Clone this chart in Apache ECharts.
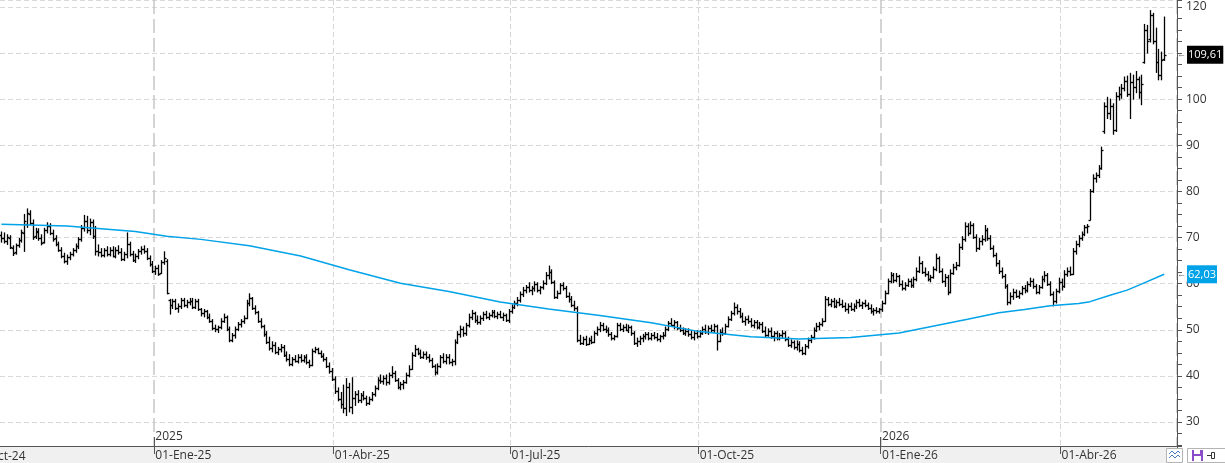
<!DOCTYPE html>
<html>
<head>
<meta charset="utf-8">
<script src="https://cdn.jsdelivr.net/npm/echarts@6/dist/echarts.min.js"></script>
<style>
html, body { margin: 0; padding: 0; background: #fff; }
#chart { width: 1225px; height: 463px; }
</style>
</head>
<body>
<div id="chart"></div>
<script>
// daily bars [open, high, low, close], first bar 15-Oct-24
var ohlc = [
[70.5,71.2,69.0,70.0],[70.0,71.0,68.8,69.2],[69.3,70.6,68.5,70.2],[70.0,70.4,67.6,68.0],[67.8,68.2,66.1,66.6],[66.8,68.6,66.4,68.3],[68.3,69.8,67.9,69.4],[69.4,71.6,69.0,71.2],[71.0,75.0,67.0,73.5],[73.0,76.2,72.2,75.4],
[75.0,75.8,72.8,73.2],[73.2,73.8,69.6,70.2],[70.4,72.0,69.8,71.5],[71.3,71.9,69.4,69.8],[69.8,70.6,68.4,68.8],[69.0,72.0,68.8,71.6],[71.6,73.2,71.0,72.6],[72.6,73.0,70.6,71.0],[71.0,71.6,69.2,69.6],[69.8,70.4,68.2,68.6],
[68.6,69.0,67.0,67.4],[67.4,67.8,65.6,66.0],[66.0,66.6,64.5,64.9],[65.0,66.2,64.2,65.8],[65.8,66.8,65.2,66.4],[66.4,67.6,66.0,67.2],[67.2,68.6,66.8,68.2],[68.2,70.0,67.6,69.6],[69.6,72.6,69.2,72.0],[72.0,74.8,71.4,73.6],
[73.6,74.6,71.0,71.6],[71.6,74.0,70.6,73.4],[73.4,73.8,69.8,70.4],[70.4,72.4,66.2,67.0],[67.0,68.4,66.0,66.8],[66.8,67.6,65.8,66.2],[66.2,67.6,65.8,67.2],[67.2,68.0,66.0,66.4],[66.4,67.8,66.0,67.4],[67.4,68.0,65.8,66.0],
[66.0,67.8,65.6,67.4],[67.4,68.2,66.4,66.8],[66.8,67.6,65.0,65.4],[65.4,66.8,65.0,66.4],[66.4,71.0,65.6,68.6],[68.6,69.0,66.0,66.4],[66.4,67.0,64.8,65.2],[65.2,66.4,64.6,66.0],[66.0,67.4,65.4,67.0],[67.0,68.0,66.4,67.6],
[67.6,68.2,66.6,67.0],[67.0,67.6,65.2,65.6],[65.6,66.0,63.8,64.2],[64.2,64.8,62.4,62.8],[62.8,63.8,62.0,63.4],[63.4,64.0,61.8,62.2],[62.4,65.0,62.2,64.6],[64.6,66.9,64.2,65.6],[65.0,65.2,57.8,58.0],[56.4,56.6,53.4,55.4],
[55.4,56.6,54.6,56.2],[56.2,56.6,54.4,54.8],[54.8,55.6,53.8,55.2],[55.2,56.8,54.6,56.4],[56.4,56.8,55.0,55.4],[55.4,56.4,54.8,56.0],[56.0,56.8,55.4,56.2],[56.2,56.8,54.6,55.0],[55.0,56.6,54.6,56.2],[56.2,56.6,54.2,54.6],
[54.6,54.6,53.0,53.6],[53.6,54.4,52.8,54.0],[54.0,54.2,52.4,52.8],[52.8,53.4,51.6,52.0],[52.0,52.2,50.0,50.4],[50.4,51.0,49.6,50.2],[50.2,50.8,49.4,50.6],[50.6,52.4,50.2,52.0],[52.0,53.4,51.6,52.8],[52.8,53.0,49.8,50.2],
[50.2,50.6,47.4,47.8],[47.8,49.2,47.4,48.8],[48.8,50.6,48.2,50.2],[50.2,51.6,49.8,51.2],[51.2,52.2,50.6,51.8],[51.8,53.0,51.4,52.6],[52.6,56.4,52.4,55.8],[55.8,57.8,55.2,56.8],[56.8,57.0,54.4,54.8],[54.8,55.2,53.4,53.8],
[53.8,54.0,51.6,52.0],[52.0,52.4,50.4,50.8],[50.8,51.0,48.6,49.0],[49.0,49.6,47.0,47.4],[47.4,48.4,45.6,46.0],[46.0,47.4,45.2,46.8],[46.8,47.2,44.8,45.2],[45.2,46.2,44.6,45.8],[45.8,46.8,45.2,46.2],[46.2,46.6,44.2,44.6],
[44.6,45.2,43.2,43.6],[43.6,44.6,42.2,42.6],[42.6,44.0,42.2,43.6],[43.6,44.4,43.0,43.2],[43.2,44.6,42.8,44.2],[44.2,44.6,43.0,43.4],[43.4,44.4,43.0,44.0],[44.0,44.6,42.6,43.0],[43.0,43.4,41.8,42.4],[42.4,45.8,42.2,45.4],
[45.4,46.2,45.0,45.8],[45.8,46.0,44.8,45.0],[45.0,45.4,44.0,44.4],[44.4,44.8,43.2,43.6],[43.6,44.0,41.8,42.2],[42.2,42.8,40.6,41.0],[41.0,41.6,39.0,39.4],[39.4,39.8,36.2,36.8],[36.8,37.4,34.6,35.0],[35.0,36.4,33.0,34.0],
[34.0,38.0,32.0,33.0],[33.0,39.4,31.4,37.6],[37.6,38.4,32.2,33.2],[33.2,39.6,31.8,35.2],[35.2,36.6,33.6,36.0],[36.0,36.8,34.2,34.8],[34.8,36.2,34.2,35.8],[35.8,36.6,34.8,35.2],[35.2,35.6,33.6,34.2],[34.2,35.4,33.8,35.0],
[35.0,36.4,34.6,36.0],[36.0,37.8,35.6,37.4],[37.4,39.6,37.0,39.2],[39.2,40.2,38.4,38.8],[38.8,40.0,38.2,39.6],[39.6,40.2,38.0,38.6],[38.6,40.6,38.2,40.2],[40.2,42.0,39.6,40.6],[40.6,41.0,38.8,39.2],[39.2,39.4,37.2,37.6],
[37.6,38.6,37.0,38.2],[38.2,39.0,37.2,38.6],[38.6,40.6,38.4,40.2],[40.2,42.2,39.8,41.6],[41.6,45.0,41.4,44.6],[44.6,46.6,44.2,45.8],[45.8,46.0,44.6,45.0],[45.0,45.6,43.8,44.2],[44.2,45.2,43.8,44.8],[44.8,45.2,43.6,44.0],
[44.0,44.6,43.0,43.4],[43.4,43.8,41.8,42.2],[42.2,42.4,40.2,40.8],[40.8,42.6,40.4,42.2],[42.2,44.4,41.8,44.0],[44.0,44.8,42.8,43.2],[43.2,44.6,42.6,44.2],[44.2,44.6,42.6,43.0],[43.0,43.6,42.2,43.2],[43.2,47.8,42.4,47.4],
[47.4,49.6,47.0,49.0],[49.0,50.8,48.4,50.2],[50.2,50.6,48.6,49.2],[49.2,51.4,48.8,51.0],[51.0,53.4,50.6,52.8],[52.8,54.2,52.2,53.6],[53.6,53.8,51.6,52.2],[52.2,53.0,51.2,51.6],[51.6,53.0,51.2,52.6],[52.6,53.8,52.0,53.4],
[53.4,54.0,52.4,52.8],[52.8,53.6,52.2,53.2],[53.2,54.2,52.8,53.8],[53.8,54.2,52.6,53.0],[53.0,53.8,52.4,53.4],[53.4,54.0,52.6,52.8],[52.8,53.6,52.0,53.2],[53.2,53.4,51.8,52.2],[52.2,54.4,51.6,54.0],[54.0,55.4,53.6,55.0],
[55.0,56.2,54.6,55.8],[55.8,57.0,55.2,56.4],[56.4,58.2,56.0,57.8],[57.8,59.2,57.2,58.6],[58.6,59.6,58.0,59.2],[59.2,60.2,58.2,58.6],[58.6,59.4,57.6,59.0],[59.0,60.4,58.4,60.0],[60.0,60.2,58.2,58.6],[58.6,59.4,57.8,59.2],
[59.2,60.6,58.8,60.2],[60.2,62.4,59.8,61.8],[61.8,63.8,61.0,62.6],[62.6,63.0,60.0,60.4],[60.4,60.6,56.8,57.2],[57.2,58.4,56.8,58.0],[58.0,60.0,57.8,59.6],[59.6,60.2,58.6,59.0],[59.0,59.4,57.0,57.4],[57.4,58.0,56.0,56.6],
[56.6,57.2,55.0,55.4],[55.4,56.2,54.2,54.8],[54.8,55.0,47.4,47.8],[47.8,48.8,46.8,47.2],[47.2,48.4,46.8,48.0],[48.0,48.6,46.6,47.0],[47.0,48.2,46.8,47.8],[47.8,48.6,47.0,47.4],[47.4,49.6,47.2,49.2],[49.2,50.6,48.8,50.2],
[50.2,51.6,49.6,51.0],[51.0,51.4,49.8,50.2],[50.2,50.8,49.4,50.0],[50.0,50.4,48.6,49.0],[49.0,49.4,47.8,48.2],[48.2,48.8,47.8,48.6],[48.6,51.4,48.4,51.0],[51.0,51.4,49.8,50.2],[50.2,51.0,49.6,50.6],[50.6,51.2,49.8,50.0],
[50.0,51.0,49.4,50.6],[50.6,50.8,48.8,49.2],[49.2,49.6,46.8,47.2],[47.2,48.2,46.4,47.6],[47.6,48.6,46.8,48.2],[48.2,49.0,47.4,48.6],[48.6,49.4,48.0,49.0],[49.0,49.4,47.8,48.2],[48.2,49.2,47.8,48.8],[48.8,49.4,48.0,48.4],
[48.4,49.2,47.6,48.0],[48.0,48.8,47.4,48.6],[48.6,49.4,48.0,48.8],[48.8,50.6,48.6,50.2],[50.2,51.8,49.8,51.4],[51.4,52.4,50.8,51.0],[51.0,52.0,50.2,51.6],[51.6,51.8,50.0,50.4],[50.4,51.0,49.6,50.0],[50.0,50.4,49.0,49.4],
[49.4,50.2,48.8,49.8],[49.8,50.2,48.6,49.0],[49.0,49.8,48.0,48.4],[48.4,49.6,47.8,49.2],[49.2,49.8,48.2,48.6],[48.6,49.8,48.4,49.4],[49.4,50.6,49.0,50.2],[50.2,51.0,49.2,49.6],[49.6,50.8,49.0,50.4],[50.4,51.0,49.6,50.0],
[50.0,51.2,49.4,50.8],[50.8,51.0,45.6,47.6],[47.6,50.0,47.4,49.6],[49.6,50.4,48.8,49.2],[49.2,51.2,49.0,50.8],[50.8,52.8,50.6,52.4],[52.4,54.0,52.0,53.6],[53.6,55.8,53.2,55.0],[55.0,55.4,53.4,54.0],[54.0,54.6,52.6,53.0],
[53.0,53.6,51.6,52.0],[52.0,52.8,51.0,52.4],[52.4,53.0,51.4,51.8],[51.8,52.4,50.6,51.0],[51.0,52.0,50.4,51.6],[51.6,52.0,50.2,50.6],[50.6,51.6,50.2,51.2],[51.2,51.6,49.4,49.8],[49.8,50.6,48.4,48.8],[48.8,50.2,48.6,49.8],
[49.8,50.4,48.2,48.6],[48.6,49.6,47.6,49.2],[49.2,49.6,47.8,48.2],[48.2,49.2,47.8,48.8],[48.8,49.8,48.2,49.4],[49.4,49.6,47.6,48.0],[48.0,48.4,46.4,46.8],[46.8,47.8,46.2,47.4],[47.4,47.6,45.8,46.2],[46.2,47.6,45.6,47.0],
[47.0,47.4,45.2,45.6],[45.6,46.2,44.6,45.0],[45.0,46.8,44.6,46.4],[46.4,48.2,46.0,47.8],[47.8,48.8,47.2,48.4],[48.4,50.4,48.0,50.0],[50.0,51.4,49.6,50.8],[50.8,51.6,50.0,51.2],[51.2,52.4,50.8,52.0],[52.0,57.2,51.8,56.6],
[56.6,57.0,55.2,55.6],[55.6,56.6,55.0,56.2],[56.2,56.8,54.8,55.2],[55.2,56.4,54.8,56.0],[56.0,56.8,55.2,55.6],[55.6,56.4,54.8,55.2],[55.2,55.8,54.0,54.4],[54.4,55.6,53.6,55.2],[55.2,55.8,54.2,54.6],[54.6,55.6,54.0,55.2],
[55.2,56.4,54.6,56.0],[56.0,56.6,55.0,55.4],[55.4,56.0,54.6,55.8],[55.8,56.4,55.0,55.4],[55.4,55.8,54.4,54.8],[54.8,55.4,53.6,54.0],[54.0,54.6,53.2,54.2],[54.2,54.8,53.6,54.0],[54.0,54.6,53.6,54.4],[54.4,56.2,54.0,55.8],
[55.8,58.4,55.6,58.0],[58.0,61.0,57.8,60.6],[60.6,62.4,60.2,61.8],[61.8,62.2,60.2,60.8],[60.8,62.2,60.4,61.6],[61.6,61.8,59.4,60.0],[60.0,60.6,58.6,59.0],[59.0,60.2,58.6,59.8],[59.8,61.0,59.4,60.6],[60.6,61.0,59.2,59.6],
[59.6,61.4,59.2,61.0],[61.0,63.4,60.6,62.8],[62.8,65.8,62.4,64.4],[64.4,64.8,62.2,62.6],[62.6,63.4,61.6,62.2],[62.2,62.6,60.6,61.0],[61.0,61.8,60.4,61.4],[61.4,63.6,61.2,63.2],[63.2,66.4,62.8,65.6],[65.6,65.8,62.4,62.8],
[62.8,63.2,60.2,60.6],[60.6,62.0,59.4,61.4],[61.4,61.8,57.6,58.2],[58.2,63.0,58.0,62.4],[62.4,64.2,62.0,63.6],[63.6,64.6,63.0,64.0],[64.0,68.6,63.8,68.0],[68.0,70.2,67.4,69.6],[69.6,73.2,69.2,72.4],[72.4,73.0,70.4,71.0],
[71.0,73.4,70.8,72.8],[72.8,73.0,69.8,70.2],[70.2,70.6,67.0,67.8],[67.8,69.8,67.4,69.2],[69.2,70.4,68.4,69.6],[69.6,72.6,69.2,71.6],[71.6,72.0,69.4,70.0],[70.0,70.4,67.4,67.8],[67.8,68.2,65.8,66.2],[66.2,66.6,63.8,64.4],
[64.4,65.0,62.2,62.8],[62.8,63.4,61.2,61.6],[61.6,62.0,59.0,59.4],[59.4,59.8,55.4,56.0],[56.0,58.0,55.6,57.4],[57.4,58.8,56.6,58.2],[58.2,58.6,57.0,57.4],[57.4,58.4,56.8,58.0],[58.0,59.4,57.6,59.0],[59.0,59.6,58.0,58.6],
[58.6,60.4,58.2,60.0],[60.0,61.2,59.4,60.6],[60.6,61.0,59.0,59.4],[59.4,59.8,57.8,58.2],[58.2,59.6,57.8,59.2],[59.2,61.6,59.0,61.0],[61.0,62.6,60.4,61.8],[61.8,62.2,59.6,60.0],[60.0,60.4,57.4,57.8],[57.8,58.2,55.2,56.2],
[56.2,58.8,55.8,58.4],[58.4,61.2,58.0,60.4],[60.4,61.0,58.6,59.4],[59.4,62.8,59.2,62.2],[62.2,63.4,61.6,62.8],[62.8,63.6,61.8,62.2],[62.2,67.6,62.0,67.0],[67.0,69.2,66.4,68.6],[68.6,70.4,68.0,69.8],[69.8,71.2,69.4,70.8],
[70.8,72.6,70.4,72.2],[72.2,72.8,71.0,72.6],[73.8,80.4,73.8,80.0],[80.0,83.6,79.8,83.0],[83.0,84.0,82.0,83.6],[83.6,85.6,83.0,85.0],[85.0,89.6,84.8,89.0],[93.0,99.2,92.6,98.6],[98.6,100.4,95.8,97.0],[97.0,100.0,95.6,98.6],
[98.6,99.0,92.4,93.4],[93.4,101.4,93.0,100.6],[100.6,102.6,99.8,101.2],[101.2,103.2,100.2,102.4],[102.4,104.8,101.8,104.0],[104.0,105.0,100.6,101.2],[101.2,105.6,95.8,103.8],[103.8,105.2,100.0,102.6],[102.6,106.0,101.4,104.4],[104.4,104.8,100.2,101.6],
[101.6,105.2,98.8,103.2],[108.0,116.2,107.8,115.0],[115.0,116.0,110.0,112.6],[113.0,119.2,112.4,118.2],[118.2,118.6,112.0,112.6],[112.6,115.4,105.8,108.0],[108.0,110.8,104.2,105.2],[105.2,110.2,104.2,108.4],[108.6,117.8,108.4,109.61]
];

// moving average read at these bar indexes
var maIdx = [0, 23, 35, 47, 58, 70, 87, 105, 122, 140, 157, 175, 192, 210, 228, 245, 263, 280, 298, 315, 339, 350, 359, 368, 378, 382, 389, 395, 400, 408];
var maVal = [72.9, 72.5, 71.9, 71.3, 70.3, 69.6, 68.2, 66.0, 63.0, 60.1, 58.3, 56.0, 54.5, 53.1, 51.5, 49.6, 48.5, 48.0, 48.3, 49.3, 52.3, 53.7, 54.4, 55.2, 55.7, 56.1, 57.5, 58.6, 59.9, 62.03];

var monthNames = ['Ene', 'Feb', 'Mar', 'Abr', 'May', 'Jun', 'Jul', 'Ago', 'Sep', 'Oct', 'Nov', 'Dic'];
var holidays = ['2024-12-25', '2024-12-26', '2025-01-01', '2025-04-18', '2025-04-21', '2025-05-01',
	'2025-12-25', '2025-12-26', '2026-01-01', '2026-04-03', '2026-04-06', '2026-05-01'];

// trading days, plus a few empty slots on the right
var dates = [];
var d = new Date(Date.UTC(2024, 9, 15));
while (dates.length < ohlc.length + 4) {
	var wd = d.getUTCDay();
	var iso = d.toISOString().slice(0, 10);
	if (wd != 0 && wd != 6 && holidays.indexOf(iso) < 0) dates.push(iso);
	d.setUTCDate(d.getUTCDate() + 1);
}

function month(i) { return +dates[i].slice(5, 7) - 1; }
function isQuarterStart(i) {
	return i > 0 && month(i) % 3 == 0 && month(i) != month(i - 1);
}
function isYearStart(i) {
	return i > 0 && month(i) == 0 && month(i - 1) == 11;
}
function isQuarterOnly(i) { return isQuarterStart(i) && !isYearStart(i); }

var barData = ohlc.map(function (r, i) { return [i, r[0], r[1], r[2], r[3]]; });
var maData = [];
for (var i = 0; i < ohlc.length; i++) maData.push(null);
maIdx.forEach(function (k, j) { maData[k] = maVal[j]; });

var lastClose = ohlc[ohlc.length - 1][3];
var lastMa = maVal[maVal.length - 1];
function fmt(v) { return v.toFixed(2).replace('.', ','); }

var font = '"Open Sans", "DejaVu Sans", sans-serif';
var chart = echarts.init(document.getElementById('chart'));

function priceTag(v, bg) {
	return {
		yAxis: v,
		label: {
			show: true,
			position: 'end',
			distance: 0,
			formatter: '{a|←}{b|' + fmt(v) + '}',
			rich: {
				a: { color: '#666', fontSize: 9, padding: [0, 1, 0, 0] },
				b: { color: '#fff', backgroundColor: bg, fontSize: 11, fontFamily: font, padding: [4, 1, 3, 1] }
			}
		}
	};
}

chart.setOption({
	animation: false,
	backgroundColor: '#fff',
	grid: { left: 0, right: 48, top: 0, bottom: 17 },
	xAxis: [{
		type: 'category',
		data: dates,
		boundaryGap: true,
		axisLine: { show: true, lineStyle: { color: '#555', width: 1 } },
		axisTick: { show: true, length: 8, interval: function (i) { return isQuarterStart(i); }, lineStyle: { color: '#555' } },
		axisLabel: {
			interval: function (i) { return isQuarterStart(i); },
			formatter: function (v) {
				var m = +v.slice(5, 7) - 1;
				return '01-' + monthNames[m] + '-' + v.slice(2, 4);
			},
			align: 'left', margin: 4, color: '#333', fontSize: 12, fontFamily: font
		},
		splitLine: {
			show: true,
			interval: function (i) { return isQuarterOnly(i); },
			lineStyle: { color: '#d6d6d6', type: [5, 3], width: 1 }
		}
	}, {
		type: 'category',
		data: dates,
		boundaryGap: true,
		position: 'bottom',
		axisLine: { show: false },
		axisTick: { show: true, inside: true, length: 9, interval: function (i) { return isYearStart(i); }, lineStyle: { color: '#555' } },
		axisLabel: {
			inside: true,
			interval: function (i) { return isYearStart(i); },
			formatter: function (v) { return v.slice(0, 4); },
			align: 'left', margin: 3, color: '#333', fontSize: 12, fontFamily: font
		},
		splitLine: {
			show: true,
			interval: function (i) { return isYearStart(i); },
			lineStyle: { color: '#c6c6c6', type: [14, 5], width: 1.5 }
		}
	}],
	yAxis: {
		type: 'value',
		position: 'right',
		min: 24.8,
		max: 121.5,
		minInterval: 10,
		maxInterval: 10,
		splitNumber: 9,
		axisLine: { show: true, lineStyle: { color: '#555' } },
		axisTick: { show: true, length: 5, lineStyle: { color: '#555' } },
		minorTick: { show: true, splitNumber: 4, length: 5, lineStyle: { color: '#555' } },
		axisLabel: {
			margin: 9, color: '#333', fontSize: 12, fontFamily: font,
			formatter: function (v) { return (Math.abs(v % 10) < 1e-6) ? String(v) : ''; }
		},
		splitLine: { show: true, lineStyle: { color: '#d9d9d9', type: [5, 3] } }
	},
	series: [{
		type: 'custom',
		name: 'precio',
		xAxisIndex: 0,
		data: barData,
		encode: { x: 0, y: [1, 2, 3, 4] },
		z: 2,
		renderItem: function (params, api) {
			var i = api.value(0);
			var o = api.coord([i, api.value(1)]);
			var h = api.coord([i, api.value(2)]);
			var l = api.coord([i, api.value(3)]);
			var c = api.coord([i, api.value(4)]);
			var x = Math.round(o[0]) + 0.5;
			var st = { stroke: '#000', lineWidth: 1.3 };
			return {
				type: 'group',
				children: [
					{ type: 'line', shape: { x1: x, y1: h[1] - 0.5, x2: x, y2: l[1] + 0.5 }, style: st },
					{ type: 'line', shape: { x1: x - 2, y1: Math.round(o[1]) + 0.5, x2: x, y2: Math.round(o[1]) + 0.5 }, style: st },
					{ type: 'line', shape: { x1: x, y1: Math.round(c[1]) + 0.5, x2: x + 2, y2: Math.round(c[1]) + 0.5 }, style: st }
				]
			};
		}
	}, {
		type: 'line',
		name: 'media',
		xAxisIndex: 0,
		data: maData,
		connectNulls: true,
		showSymbol: false,
		symbol: 'none',
		clip: false,
		z: 3,
		lineStyle: { color: '#00a2e8', width: 1.5 },
		markLine: {
			silent: true,
			symbol: ['none', 'none'],
			lineStyle: { color: 'rgba(0,0,0,0)', width: 1, type: 'solid' },
			data: [priceTag(lastClose, '#000'), priceTag(lastMa, '#00a2e8')]
		}
	}],
	graphic: [
		{ type: 'rect', z: -1, shape: { x: 0, y: 447, width: 1176, height: 16 }, style: { fill: '#f0f0f0' } },
		{ type: 'text', z: 10, x: -29, y: 457, style: { text: '01-Oct-24', fill: '#333', font: '12px ' + font, verticalAlign: 'middle' } },
		{ type: 'rect', z: 10, shape: { x: 1166.5, y: 448.5, width: 16, height: 14 }, style: { fill: '#fff', stroke: '#b4b4b4' } },
		{ type: 'polyline', z: 11, shape: { points: [[1169, 454], [1172, 451], [1175, 454], [1178, 451], [1180, 453]] }, style: { stroke: '#4a7cc4', fill: null, lineWidth: 1 } },
		{ type: 'polyline', z: 11, shape: { points: [[1169, 458], [1172, 455], [1175, 458], [1178, 455], [1180, 457]] }, style: { stroke: '#4a7cc4', fill: null, lineWidth: 1 } },
		{ type: 'rect', z: 10, shape: { x: 1187.5, y: 448.5, width: 40, height: 14 }, style: { fill: '#fff', stroke: '#b4b4b4' } },
		{ type: 'rect', z: 11, shape: { x: 1192, y: 450, width: 11, height: 11 }, style: { fill: '#8a4cc8' } },
		{ type: 'rect', z: 12, shape: { x: 1194, y: 450, width: 6, height: 4 }, style: { fill: '#fff' } },
		{ type: 'rect', z: 12, shape: { x: 1194, y: 456, width: 7, height: 5 }, style: { fill: '#fff' } },
		{ type: 'line', z: 11, shape: { x1: 1207, y1: 455.5, x2: 1211, y2: 455.5 }, style: { stroke: '#333' } },
		{ type: 'rect', z: 11, shape: { x: 1211.5, y: 452.5, width: 3, height: 6 }, style: { fill: '#fff', stroke: '#333' } }
	]
});
</script>
</body>
</html>
